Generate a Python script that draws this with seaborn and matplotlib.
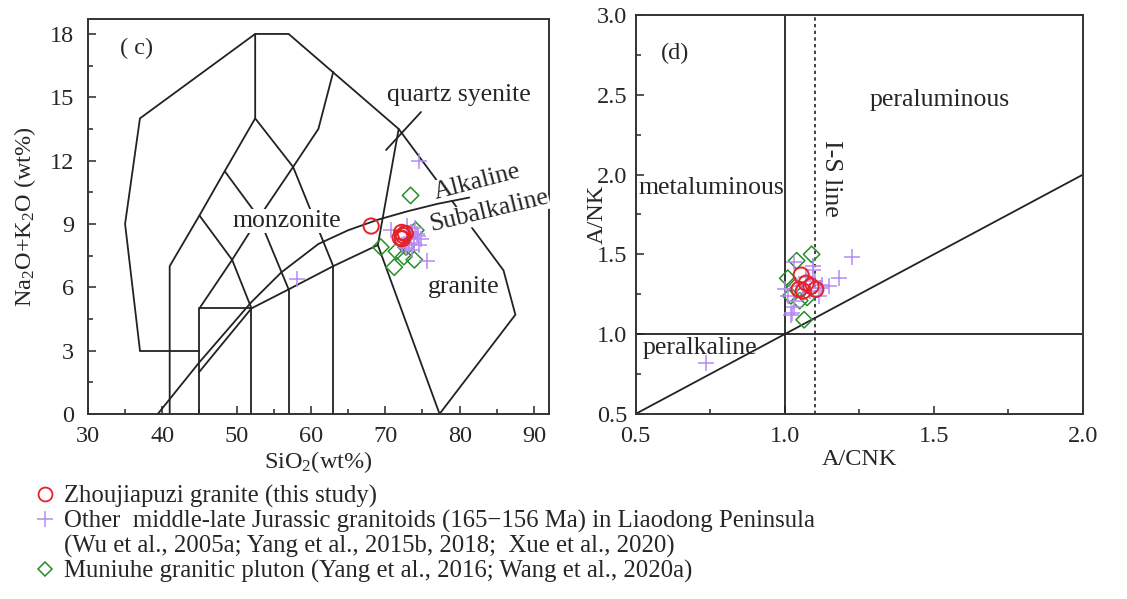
import numpy as np
import pandas as pd
import matplotlib.pyplot as plt
import seaborn as sns
from matplotlib.lines import Line2D
from matplotlib.ticker import MultipleLocator

sns.set_style("ticks")
plt.rcParams['font.family'] = ['Liberation Serif', 'DejaVu Serif']
plt.rcParams['mathtext.fontset'] = 'custom'
plt.rcParams['mathtext.rm'] = 'Liberation Serif'
plt.rcParams['mathtext.it'] = 'Liberation Serif:italic'

RED = '#e62129'
PURPLE = '#b48cf2'
GREEN = '#2a8c2a'

# ---- (c) TAS data: SiO2 vs Na2O+K2O ----
zj_sio2 = [68.1, 72.2, 72.0, 72.4, 72.7, 72.3]
zj_alk = [8.9, 8.6, 8.35, 8.45, 8.55, 8.3]

oth_sio2 = [74.6, 58.1, 75.6, 70.8, 72.9, 73.5, 74.2, 74.8, 74.6, 73.8, 73.2,
            72.8, 73.6, 73.0, 74.0, 72.3, 73.4, 74.4]
oth_alk = [12.0, 6.4, 7.25, 8.7, 8.9, 8.6, 8.5, 8.3, 8.0, 8.1, 8.0,
           7.85, 7.75, 8.3, 8.8, 8.0, 8.4, 8.45]

mu_sio2 = [73.4, 69.4, 74.1, 71.5, 72.5, 73.9, 71.2, 72.8]
mu_alk = [10.35, 7.9, 8.7, 7.7, 7.45, 7.3, 6.95, 7.9]

# TAS field boundaries (Middlemost, 1994)
tas_outline = [(37, 3), (35, 9), (37, 14), (52.5, 18), (57, 18), (71.8, 13.5),
               (85.9, 6.8), (87.5, 4.7), (77.3, 0)]
tas_lines = [
    [(41, 0), (41, 7), (45, 9.4), (48.4, 11.5), (52.5, 14), (52.5, 18)],
    [(45, 0), (45, 5), (52, 5), (52, 0)],
    [(37, 3), (45, 3)],
    [(57, 0), (57, 5.9)],
    [(63, 0), (63, 7)],
    [(45, 9.4), (49.4, 7.3), (52, 5), (57, 5.9), (63, 7), (69, 8), (71.8, 13.5)],
    [(69, 8), (77.3, 0)],
    [(45, 5), (49.4, 7.3), (53, 9.3), (57.6, 11.7), (61, 13.5), (63, 16.2)],
    [(48.4, 11.5), (53, 9.3), (57, 5.9)],
    [(52.5, 14), (57.6, 11.7), (63, 7)],
    [(45, 2), (52, 5)],
]
qs_pointer = [(70.1, 12.5), (74.8, 14.3)]
# Alkaline / Subalkaline divide
ib_sio2 = [39.4, 45, 52, 56, 61, 65, 69, 73, 77, 81.3]
ib_alk = [0, 2.45, 5.3, 6.7, 8.05, 8.7, 9.2, 9.6, 9.95, 10.25]

# ---- (d) A/CNK vs A/NK ----
zj_acnk = [1.055, 1.048, 1.088, 1.104, 1.072, 1.062]
zj_ank = [1.37, 1.28, 1.30, 1.28, 1.32, 1.27]

oth_acnk = [0.737, 1.226, 1.182, 1.096, 1.096, 1.148, 1.126, 1.115, 1.03, 1.01,
            1.025, 1.03, 1.03, 1.06, 1.085, 1.10, 1.12, 1.07, 1.04, 1.0, 1.02]
oth_ank = [0.82, 1.485, 1.35, 1.43, 1.40, 1.30, 1.31, 1.24, 1.45, 1.24,
           1.13, 1.17, 1.21, 1.26, 1.27, 1.33, 1.29, 1.36, 1.30, 1.28, 1.12]

mu_acnk = [1.04, 1.09, 1.01, 1.02, 1.065, 1.075, 1.05, 1.03]
mu_ank = [1.46, 1.50, 1.35, 1.24, 1.09, 1.23, 1.21, 1.30]

diag_x = [0.5, 2.0]
diag_y = [0.5, 2.0]
acnk_div = 1.0
ank_div = 1.0
is_line = 1.1

fig = plt.figure(figsize=(11.27, 5.99), dpi=100)
ax1 = fig.add_axes([0.078, 0.309, 0.409, 0.659])
ax2 = fig.add_axes([0.564, 0.309, 0.397, 0.666])

lw = 1.3
lc = '#222222'
fs_lab = 18.5

# ---- panel (c) ----
ox, oy = zip(*tas_outline)
ax1.plot(ox, oy, color=lc, lw=lw, zorder=1)
for seg in tas_lines:
    sx, sy = zip(*seg)
    ax1.plot(sx, sy, color=lc, lw=lw, zorder=1)
px_, py_ = zip(*qs_pointer)
ax1.plot(px_, py_, color=lc, lw=lw, zorder=1)
ax1.plot(ib_sio2, ib_alk, color=lc, lw=lw, zorder=4)

box = dict(facecolor='white', edgecolor='none', pad=0.5)
ax1.text(36.6, 17.3, '( c)', fontsize=17.5, ha='center', va='center')
ax1.text(79.9, 15.1, 'quartz syenite', fontsize=fs_lab, ha='center', va='center', bbox=box, zorder=3)
ax1.text(56.8, 9.15, 'monzonite', fontsize=fs_lab, ha='center', va='center', bbox=box, zorder=3)
ax1.text(82.3, 11.0, 'Alkaline', fontsize=fs_lab, ha='center', va='center', rotation=14.5,
         bbox=box, zorder=3)
ax1.text(83.9, 9.6, 'Subalkaline', fontsize=fs_lab, ha='center', va='center', rotation=13.5,
         bbox=box, zorder=3, clip_on=False)
ax1.text(80.6, 6.0, 'granite', fontsize=fs_lab, ha='center', va='center', zorder=3)

sns.scatterplot(x=mu_sio2, y=mu_alk, marker='D', s=70, color=GREEN, facecolor='none',
                edgecolor=GREEN, linewidth=1.1, ax=ax1, zorder=5)
sns.scatterplot(x=oth_sio2, y=oth_alk, marker='+', s=120, color=PURPLE, linewidth=1.1,
                ax=ax1, zorder=6)
sns.scatterplot(x=zj_sio2, y=zj_alk, marker='o', s=120, color=RED, facecolor='none',
                edgecolor=RED, linewidth=1.4, ax=ax1, zorder=7)

ax1.set_xlim(30, 92)
ax1.set_ylim(0, 18.7)
ax1.xaxis.set_major_locator(MultipleLocator(10))
ax1.xaxis.set_minor_locator(MultipleLocator(5))
ax1.yaxis.set_major_locator(MultipleLocator(3))
ax1.yaxis.set_minor_locator(MultipleLocator(1.5))
ax1.set_xlabel('SiO$_2$(wt%)', fontsize=17.5)
ax1.set_ylabel('Na$_2$O+K$_2$O (wt%)', fontsize=17.5)
ax1.xaxis.set_label_coords(0.499, -0.088)
ax1.yaxis.set_label_coords(-0.108, 0.5)

# ---- panel (d) ----
ax2.plot(diag_x, diag_y, color=lc, lw=lw, zorder=2)
ax2.axvline(acnk_div, color=lc, lw=lw, zorder=2)
ax2.axhline(ank_div, color=lc, lw=lw, zorder=2)
ax2.axvline(is_line, color=lc, lw=1.2, ls=(0, (2, 2)), zorder=2)

ax2.text(0.631, 2.76, '(d)', fontsize=17.5, ha='center', va='center')
ax2.text(1.518, 2.47, 'peraluminous', fontsize=fs_lab, ha='center', va='center')
ax2.text(0.754, 1.914, 'metaluminous', fontsize=fs_lab, ha='center', va='center')
ax2.text(1.154, 1.977, 'I-S line', fontsize=fs_lab, ha='center', va='center', rotation=270)
ax2.text(0.717, 0.91, 'peralkaline', fontsize=fs_lab, ha='center', va='center', zorder=1)

sns.scatterplot(x=mu_acnk, y=mu_ank, marker='D', s=70, color=GREEN, facecolor='none',
                edgecolor=GREEN, linewidth=1.1, ax=ax2, zorder=5)
sns.scatterplot(x=oth_acnk, y=oth_ank, marker='+', s=120, color=PURPLE, linewidth=1.1,
                ax=ax2, zorder=6)
sns.scatterplot(x=zj_acnk, y=zj_ank, marker='o', s=120, color=RED, facecolor='none',
                edgecolor=RED, linewidth=1.4, ax=ax2, zorder=7)

ax2.set_xlim(0.5, 2.0)
ax2.set_ylim(0.5, 3.0)
ax2.xaxis.set_major_locator(MultipleLocator(0.5))
ax2.xaxis.set_minor_locator(MultipleLocator(0.25))
ax2.yaxis.set_major_locator(MultipleLocator(0.5))
ax2.yaxis.set_minor_locator(MultipleLocator(0.25))
ax2.xaxis.set_major_formatter(lambda v, p: f'{v:.1f}')
ax2.yaxis.set_major_formatter(lambda v, p: f'{v:.1f}')
ax2.set_xlabel('A/CNK', fontsize=17.5)
ax2.set_ylabel('A/NK', fontsize=17.5)
ax2.xaxis.set_label_coords(0.501, -0.088)
ax2.yaxis.set_label_coords(-0.063, 0.5)

for ax, ypad in ((ax1, 10), (ax2, 6)):
    ax.tick_params(which='major', direction='in', length=6, width=1.1, labelsize=17.5,
                   top=False, right=False)
    ax.tick_params(which='minor', direction='in', length=3.5, width=1.1,
                   top=False, right=False)
    ax.tick_params(axis='x', which='major', pad=9)
    ax.tick_params(axis='y', which='major', pad=ypad)
    for sp in ax.spines.values():
        sp.set_color('#333333')
        sp.set_linewidth(1.4)

# ---- legend ----
handles = [
    Line2D([], [], marker='o', ls='', mfc='none', mec=RED, ms=10, mew=1.3),
    Line2D([], [], marker='+', ls='', color=PURPLE, ms=11, mew=1.1),
    Line2D([], [], marker='', ls=''),
    Line2D([], [], marker='D', ls='', mfc='none', mec=GREEN, ms=7.5, mew=1.1),
]
labels = [
    'Zhoujiapuzi granite (this study)',
    'Other  middle-late Jurassic granitoids (165\u2212156 Ma) in Liaodong Peninsula',
    '(Wu et al., 2005a; Yang et al., 2015b, 2018;  Xue et al., 2020)',
    'Muniuhe granitic pluton (Yang et al., 2016; Wang et al., 2020a)',
]
fig.legend(handles, labels, loc='upper left', bbox_to_anchor=(0.029, 0.19),
           frameon=False, fontsize=17.8, handlelength=1.0, handletextpad=0.25,
           labelspacing=0.08, borderpad=0, borderaxespad=0)

fig.savefig('out.png', dpi=100)
